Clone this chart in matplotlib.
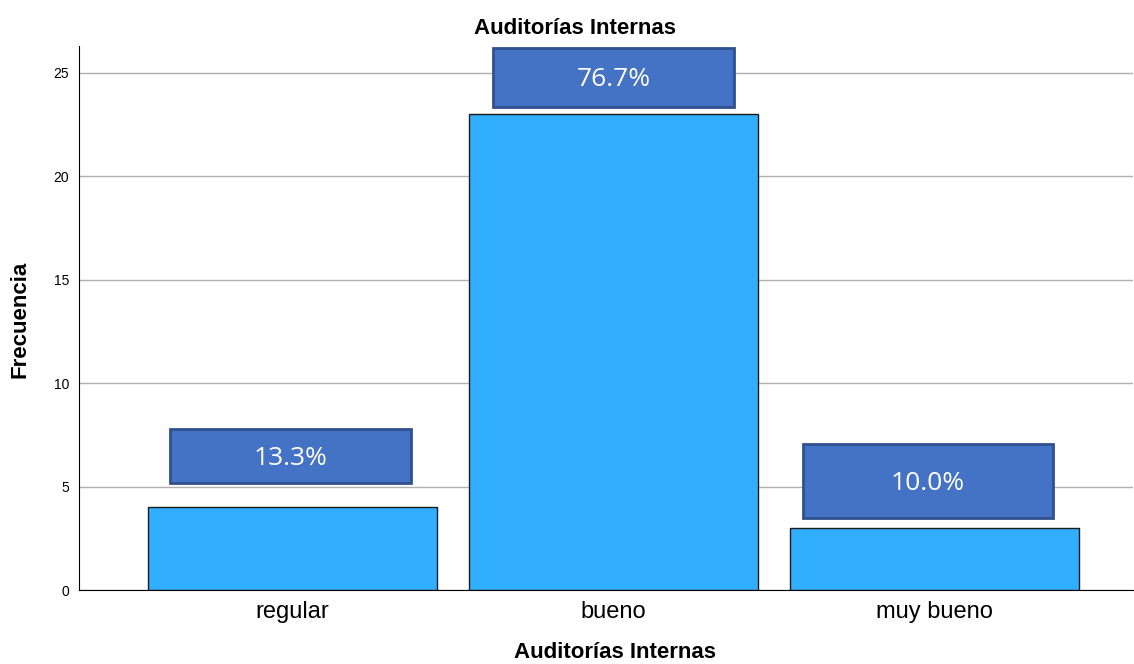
import matplotlib
matplotlib.use("Agg")
import matplotlib.pyplot as plt
from matplotlib.patches import Rectangle

categories = ["regular", "bueno", "muy bueno"]
counts = [4, 23, 3]
pct_labels = ["13.3%", "76.7%", "10.0%"]
# label box centers (y, data units) and sizes
label_y = [6.48, 24.76, 5.27]
label_h = [2.65, 2.85, 3.55]
label_w = [0.75, 0.75, 0.78]
label_dx = [-0.007, 0.0, -0.022]
yticks = [0, 5, 10, 15, 20, 25]

narrow = ["Liberation Sans Narrow", "Liberation Sans", "DejaVu Sans"]
sans = ["Liberation Sans", "DejaVu Sans"]

fig = plt.figure(figsize=(11.34, 6.64), dpi=100)
ax = fig.add_axes([79/1134, 74/664, 1054/1134, 544/664])

x = list(range(len(categories)))
ax.bar(x, counts, width=0.9, color="#31AEFF", edgecolor="#1a1a1a", linewidth=1.0, zorder=3)

for xi, ly, lh, lw, dx, txt in zip(x, label_y, label_h, label_w, label_dx, pct_labels):
    cx = xi + dx
    ax.add_patch(Rectangle((cx - lw/2, ly - lh/2), lw, lh,
                           facecolor="#4472C4", edgecolor="#2F528F", linewidth=2, zorder=4))
    ax.text(cx, ly - 0.1, txt, ha="center", va="center", color="white",
            fontsize=19, family=["Open Sans", "DejaVu Sans"], zorder=5)

ax.set_xlim(-0.665, 2.617)
ax.set_ylim(0, 26.3)
ax.set_yticks(yticks)
ax.set_yticklabels([str(v) for v in yticks], family=narrow, fontsize=10)
ax.set_xticks(x)
ax.set_xticklabels(categories, family=sans, fontsize=17)
ax.tick_params(axis="x", length=0, pad=8)
ax.tick_params(axis="y", length=0, pad=7)
ax.yaxis.grid(True, color="#b0b0b0", linewidth=1, zorder=0)
ax.set_axisbelow(True)
for s in ["top", "right"]:
    ax.spines[s].set_visible(False)
ax.spines["left"].set_linewidth(0.8)
ax.spines["bottom"].set_linewidth(0.8)

fig.text(575/1134, 1 - 29/664, "Auditorías Internas", ha="center", va="center",
         fontsize=16, fontweight="bold", family=sans)
fig.text(615/1134, 1 - 653/664, "Auditorías Internas", ha="center", va="center",
         fontsize=16, fontweight="bold", family=sans)
fig.text(20/1134, 1 - 319/664, "Frecuencia", ha="center", va="center", rotation=90,
         fontsize=16, fontweight="bold", family=sans)

fig.savefig("out.png", dpi=100)
